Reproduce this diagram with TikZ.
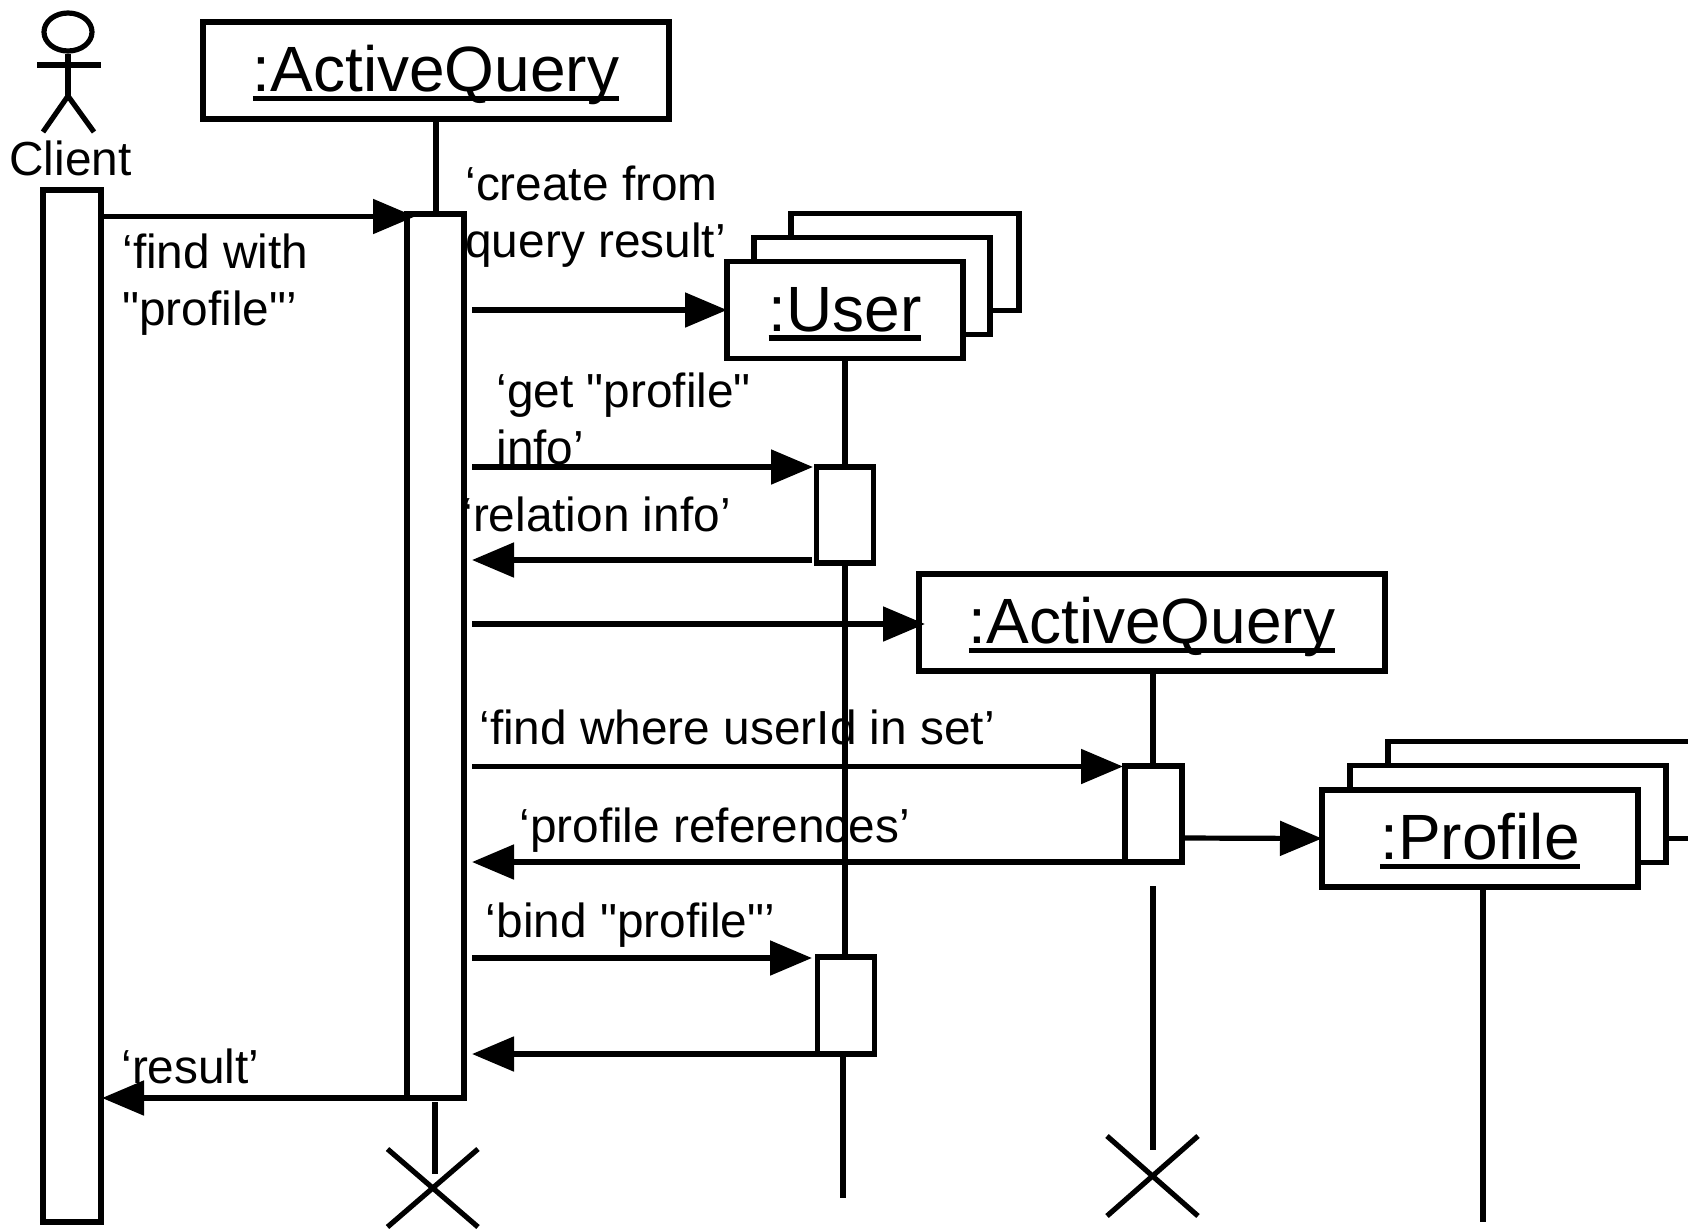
\documentclass[tikz,border=0pt]{standalone}
\usepackage{fontspec}
\usetikzlibrary{arrows.meta, shapes.geometric}
\newfontfamily\diagfont{Liberation Sans}
\newcommand{\objname}[1]{\setbox0\hbox{#1}\rlap{\rule[-4.9pt]{\wd0}{2.7pt}}\box0}
\tikzset{
  diagram line/.style={line width=2.6pt},
  message/.style={
    diagram line,
    -{Triangle[length=21pt,width=17pt]},
  },
  msg label/.style={
    anchor=base west,
    inner sep=0pt,
    align=left,
    font=\diagfont\fontsize{23.9}{28.5}\selectfont,
  },
  object box/.style={
    diagram line,
    draw,
    fill=white,
    inner sep=0pt,
    outer sep=0pt,
    minimum height=48.5pt,
    text height=24pt,
    text depth=3pt,
    font=\diagfont\fontsize{32}{36}\selectfont,
  },
  activation/.style={
    diagram line,
    draw,
    fill=white,
    inner sep=0pt,
    minimum width=28.5pt,
  },
}
\begin{document}
\begin{tikzpicture}[y=-0.5pt, x=0.5pt]
      \useasboundingbox (0,0) rectangle (1688,1228);

      % free ends of the messages
      \coordinate (m1a) at (100,216.5);  \coordinate (m1b) at (415,216.5);
      \coordinate (m2a) at (472,310);
      \coordinate (m3a) at (472,467);    \coordinate (m3b) at (813,467);
      \coordinate (m4a) at (812,560);    \coordinate (m4b) at (472,560);
      \coordinate (m5a) at (472,624);    \coordinate (m5b) at (925,624);
      \coordinate (m6a) at (472,766.5);  \coordinate (m6b) at (1123,766.5);
      \coordinate (m7a) at (1134,862);   \coordinate (m7b) at (472,862);
      \coordinate (m8a) at (1182,838);
      \coordinate (m9a) at (472,958);    \coordinate (m9b) at (812,958);
      \coordinate (m10a) at (817,1054);  \coordinate (m10b) at (472,1054);
      \coordinate (m11a) at (414,1098);  \coordinate (m11b) at (102,1098);

      % ends of the lifelines
      \coordinate (query1 top)  at (435,1102);
      \coordinate (query1 end)  at (435,1174);
      \coordinate (query2 top)  at (1153,886);
      \coordinate (query2 end)  at (1153,1150);
      \coordinate (user end)    at (843,1198);
      \coordinate (profile end) at (1483,1222);

      % client
      \node[ellipse, diagram line, draw, inner sep=0pt, minimum width=24pt, minimum height=19pt] (head) at (68,32) {};
      \coordinate (arm1) at (37,65);
      \coordinate (arm2) at (101,65);
      \coordinate (hip)  at (68,96);
      \coordinate (leg1) at (43,132);
      \coordinate (leg2) at (94,132);
      \draw[diagram line] (head.south) -- (hip);
      \draw[diagram line] (arm1) -- (arm2);
      \draw[diagram line] (leg1) -- (hip) -- (leg2);
      \node[msg label] (client) at (9,175) {Client};
      \node[activation, minimum width=29pt, minimum height=516pt] (bar client) at (72,706) {};

      % lifelines, under everything else
      \draw[diagram line] (436,119) -- (436,214);
      \draw[diagram line] (query1 top) -- (query1 end);
      \draw[diagram line] (845,357) -- (845,957);
      \draw[diagram line] (843,1054) -- (user end);
      \draw[diagram line] (1153,671) -- (1153,766);
      \draw[diagram line] (query2 top) -- (query2 end);
      \draw[diagram line] (1483,889) -- (profile end);

      % labels
      \node[msg label] (l1)  at (122,325.5) {‘find with\\"profile"’};
      \node[msg label] (l2)  at (465,257) {‘create from\\query result’};
      \node[msg label] (l3)  at (496,464.5) {‘get "profile"\\info’};
      \node[msg label] (l4)  at (462,531.5) {‘relation info’};
      \node[msg label] (l5)  at (479,744) {‘find where userId in set’};
      \node[msg label] (l6)  at (519,842) {‘profile references’};
      \node[msg label] (l7)  at (485.5,937) {‘bind "profile"’};
      \node[msg label] (l8)  at (121,1083) {‘result’};

      % objects
      \node[object box, minimum width=233pt] (query1) at (436,70.5) {\objname{:ActiveQuery}};
      \node[object box, minimum width=114pt] (user3) at (905,262) {};
      \node[object box, minimum width=118pt] (user2) at (872,286) {};
      \node[object box, minimum width=118pt] (user1) at (845,310) {\objname{:User}};
      \node[object box, minimum width=233pt] (query2) at (1152,622.5) {\objname{:ActiveQuery}};
      \node[object box, minimum width=158pt] (profile3) at (1546,790) {};
      \node[object box, minimum width=158pt] (profile2) at (1508,814) {};
      \node[object box, minimum width=158pt] (profile1) at (1480,838.5) {\objname{:Profile}};

      % activations
      \node[activation, minimum height=442pt] (bar query1) at (435.5,656) {};
      \node[activation, minimum height=48pt] (bar user1) at (845,515) {};
      \node[activation, minimum height=48.5pt] (bar user2) at (846,1005.5) {};
      \node[activation, minimum height=48pt] (bar query2) at (1153.5,814) {};

      % messages
      \draw[message] (m1a) -- (m1b);
      \draw[message] (m2a) -- (user1.west);
      \draw[message] (m3a) -- (m3b);
      \draw[message] (m4a) -- (m4b);
      \draw[message] (m5a) -- (m5b);
      \draw[message] (m6a) -- (m6b);
      \draw[message] (m7a) -- (m7b);
      \draw[message] (m8a) -- (profile1.west);
      \draw[message] (m9a) -- (m9b);
      \draw[message] (m10a) -- (m10b);
      \draw[message] (m11a) -- (m11b);

      % destruction marks
      \coordinate (x1a) at (387.5,1149);  \coordinate (x1b) at (478,1227);
      \coordinate (x1c) at (478,1149);    \coordinate (x1d) at (387.5,1227);
      \coordinate (x2a) at (1107,1136);   \coordinate (x2b) at (1198,1216);
      \coordinate (x2c) at (1198,1136);   \coordinate (x2d) at (1107,1216);
      \draw[diagram line] (x1a) -- (x1b);
      \draw[diagram line] (x1c) -- (x1d);
      \draw[diagram line] (x2a) -- (x2b);
      \draw[diagram line] (x2c) -- (x2d);
    \end{tikzpicture}
\end{document}
